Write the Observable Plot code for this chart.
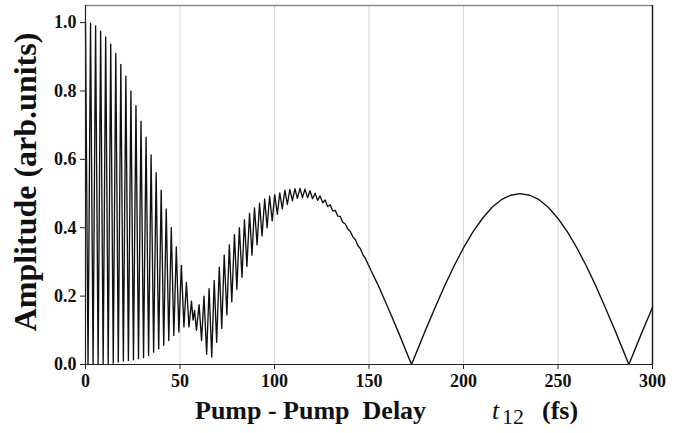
<!DOCTYPE html>
<html>
<head>
<meta charset="utf-8">
<script src="https://cdn.jsdelivr.net/npm/d3@7"></script>
<script src="https://cdn.jsdelivr.net/npm/@observablehq/plot@0.6"></script>
<style>
  html, body { margin: 0; padding: 0; background: #fff; }
  #chart { width: 679px; height: 433px; }
</style>
</head>
<body>
<div id="chart"></div>
<script>
// Pump-pump delay t12 (fs) of each read-off turning point of the trace
const delayFs = [
  0, 1.34, 2.67, 4.01, 5.34, 6.68, 8.01, 9.35, 10.68, 12.02,
  13.35, 14.69, 16.02, 17.36, 18.69, 20.03, 21.36, 22.7, 24.03, 25.37,
  26.7, 28.04, 29.37, 30.71, 32.04, 33.38, 34.71, 36.05, 37.38, 38.72,
  40.05, 41.39, 42.72, 44.06, 45.39, 46.73, 48.06, 49.4, 50.73, 52.07,
  53.4, 54.74, 56.07, 56.9, 57.7, 58.7, 60.1, 61.4, 62.7, 64.1,
  65.4, 66.8, 68.1, 69.4, 70.8, 72.1, 73.4, 74.8, 76.1, 77.4,
  78.8, 80.1, 81.4, 82.8, 84.1, 85.4, 86.8, 88.1, 89.4, 90.8,
  92.1, 93.4, 94.8, 96.1, 97.4, 98.8, 100.1, 101.5, 102.8, 104.1,
  105.5, 106.8, 108.1, 109.5, 110.8, 112.1, 113.5, 114.8, 116.1, 117.5,
  118.8, 120.1, 121.5, 122.8, 124.1, 125.5, 126.8, 128.1, 129.5, 130.8,
  132.1, 133.5, 134.8, 136.1, 137.5, 138.8, 140.1, 141.4, 142.8, 144.1,
  145.5, 146.8, 148.2, 149.5, 155, 160, 165, 170, 172.5, 175,
  180, 185, 190, 195, 200, 205, 210, 215, 220, 225,
  230, 235, 240, 245, 250, 255, 260, 265, 270, 275,
  280, 285, 287.5, 290, 295, 300
];
// Amplitude (arb. units) read at each of those delays
const amplitude = [
  1.0, 0.0, 0.998, 0.0, 0.99, 0.0, 0.975, 0.0, 0.958, 0.002,
  0.937, 0.004, 0.91, 0.007, 0.878, 0.01, 0.843, 0.012, 0.80, 0.014,
  0.757, 0.017, 0.712, 0.02, 0.665, 0.026, 0.613, 0.036, 0.561, 0.046,
  0.51, 0.056, 0.455, 0.07, 0.40, 0.085, 0.344, 0.095, 0.29, 0.11,
  0.24, 0.11, 0.185, 0.13, 0.158, 0.10, 0.175, 0.07, 0.20, 0.03,
  0.222, 0.022, 0.246, 0.065, 0.285, 0.105, 0.32, 0.145, 0.35, 0.183,
  0.38, 0.22, 0.40, 0.255, 0.423, 0.287, 0.442, 0.32, 0.458, 0.35,
  0.472, 0.376, 0.484, 0.40, 0.492, 0.42, 0.497, 0.44, 0.502, 0.455,
  0.509, 0.468, 0.512, 0.479, 0.514, 0.486, 0.515, 0.488, 0.513, 0.488,
  0.508, 0.485, 0.501, 0.480, 0.493, 0.473, 0.481, 0.462, 0.467, 0.449,
  0.451, 0.434, 0.433, 0.416, 0.411, 0.396, 0.389, 0.374, 0.365, 0.348,
  0.338, 0.321, 0.3095, 0.293, 0.230, 0.167, 0.102, 0.034, 0.0, 0.034,
  0.102, 0.167, 0.230, 0.288, 0.341, 0.388, 0.427, 0.459, 0.482, 0.495,
  0.500, 0.495, 0.482, 0.459, 0.427, 0.388, 0.341, 0.288, 0.230, 0.167,
  0.102, 0.034, 0.0, 0.034, 0.102, 0.167
];
const xTicks = [0, 50, 100, 150, 200, 250, 300];
const yTicks = [0.0, 0.2, 0.4, 0.6, 0.8, 1.0];
const gridX = [50, 100, 150, 200, 250];

const trace = delayFs.map((t, i) => ({t, a: amplitude[i]}));

const serif = "'Liberation Serif', 'Times New Roman', serif";

const chart = Plot.plot({
  width: 679,
  height: 433,
  marginLeft: 85,
  marginRight: 27,
  marginTop: 5,
  marginBottom: 69,
  style: {fontFamily: serif, fontWeight: "bold", fontSize: "18px", background: "#fff", color: "#111"},
  x: {domain: [0, 300], label: null},
  y: {domain: [0, 1.05], label: null},
  marks: [
    Plot.ruleX(gridX, {stroke: "#d4d4d4", strokeWidth: 1}),
    Plot.ruleY([1.05], {stroke: "#8a8a8a", strokeWidth: 1.5}),
    Plot.ruleX([300], {stroke: "#222", strokeWidth: 1.5}),
    Plot.line(trace, {x: "t", y: "a", stroke: "#111", strokeWidth: 1.35}),
    Plot.axisX({ticks: xTicks, tickSize: 5, tickPadding: 5, tickFormat: d3.format("d"), stroke: "#222", fill: "#111"}),
    Plot.axisY({ticks: yTicks, tickSize: 5, tickPadding: 4, tickFormat: d3.format(".1f"), stroke: "#222", fill: "#111"}),
    Plot.ruleX([0], {stroke: "#222", strokeWidth: 1.2}),
    Plot.ruleY([0], {stroke: "#222", strokeWidth: 1.2})
  ]
});

document.getElementById("chart").appendChild(chart);

const svg = d3.select(chart);
// y-axis title
svg.append("text")
  .attr("transform", "translate(36,182) rotate(-90)")
  .attr("text-anchor", "middle")
  .style("font-family", serif)
  .style("font-weight", "bold")
  .style("font-size", "32px")
  .attr("fill", "#111")
  .text("Amplitude (arb.units)");

// x-axis title
const xt = svg.append("text")
  .attr("y", 419)
  .attr("text-anchor", "start")
  .style("text-anchor", "start")
  .style("font-family", serif)
  .style("font-size", "26px")
  .attr("fill", "#111");
xt.append("tspan").attr("x", 195).style("font-weight", "bold").text("Pump - Pump\u00a0\u00a0Delay");
xt.append("tspan").attr("x", 492).style("font-style", "italic").style("font-weight", "normal").text("t");
xt.append("tspan").attr("x", 502).style("font-weight", "normal").style("font-size", "22px").attr("dy", 5).text("12");
xt.append("tspan").attr("x", 542).style("font-weight", "bold").attr("dy", -5).text("(fs)");
</script>
</body>
</html>
